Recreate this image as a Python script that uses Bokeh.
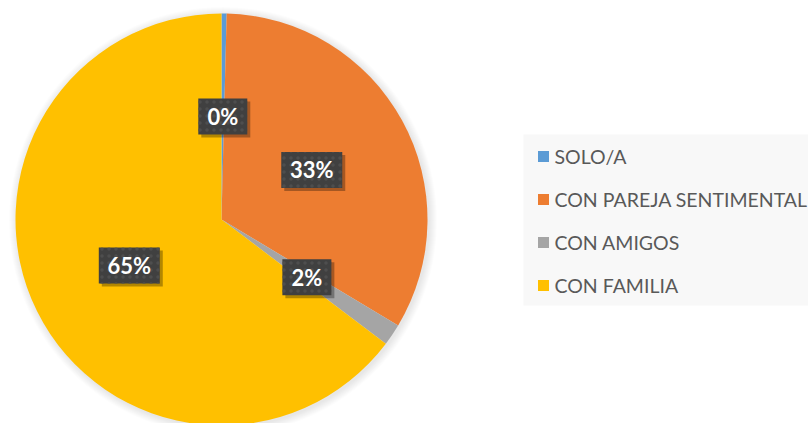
import numpy as np
from bokeh.plotting import figure
from bokeh.embed import file_html
from bokeh.resources import INLINE
from bokeh.core.properties import value
from bokeh.models import ColumnDataSource

categories = ["SOLO/A", "CON PAREJA SENTIMENTAL", "CON AMIGOS", "CON FAMILIA"]
shares = [0.4, 33.2, 1.7, 64.7]
labels = ["0%", "33%", "2%", "65%"]
colors = ["#5B9BD5", "#ED7D31", "#A5A5A5", "#FFC000"]

W, H = 808, 423
p = figure(width=W, height=H, x_range=(0, W), y_range=(0, H),
           output_backend="svg", toolbar_location=None, min_border=0)
p.axis.visible = False
p.grid.visible = False
p.outline_line_color = None
p.background_fill_color = "white"
p.border_fill_color = "white"

cx, cy, r = 221, 204, 206

# soft shadow around pie
for k in range(8, 0, -1):
    p.circle(x=cx + 1.5, y=cy - 1.5, radius=r + k, fill_color="black",
             fill_alpha=0.012, line_color=None)

frac = np.array(shares) / sum(shares)
cum = np.concatenate([[0], np.cumsum(frac)])
start = np.pi / 2 - 2 * np.pi * cum[:-1]
end = np.pi / 2 - 2 * np.pi * cum[1:]
src = ColumnDataSource(dict(start=start, end=end, color=colors, cat=categories))
p.wedge(x=cx, y=cy, radius=r, start_angle="start", end_angle="end",
        direction="clock", fill_color="color", line_color=None, source=src)

# data labels
mid = (cum[:-1] + cum[1:]) / 2
ang = np.pi / 2 - 2 * np.pi * mid
lx = cx + 0.5 * r * np.cos(ang)
ly = cy + 0.5 * r * np.sin(ang)
bw = [25 + 12 * len(s) for s in labels]
lsrc = ColumnDataSource(dict(x=lx, y=ly, sx=lx + 3, sy=ly - 3, w=bw, t=labels))
p.rect(x="sx", y="sy", width="w", height=36, fill_color="black", fill_alpha=0.3,
       line_color=None, source=lsrc)
p.rect(x="x", y="y", width="w", height=36, fill_color="#404040", line_color=None,
       hatch_pattern="dot", hatch_color="#4e4e4e", hatch_scale=7, hatch_weight=1.5,
       source=lsrc)
p.text(x="x", y="y", text="t", text_color="white", text_font=value("Lato"),
       text_font_style="bold", text_font_size="22px", text_align="center",
       text_baseline="middle", source=lsrc)

# legend
p.quad(left=523, right=808, bottom=118, top=289, fill_color="#f8f8f8", line_color=None)
ys = [267 - 43 * i for i in range(len(categories))]
gsrc = ColumnDataSource(dict(x=[543] * 4, tx=[554] * 4, y=ys, c=colors, t=categories))
p.rect(x="x", y="y", width=11, height=11, fill_color="c", line_color=None, source=gsrc)
p.text(x="tx", y="y", text="t", text_color="#595959", text_font=value("Lato"),
       text_font_size="19.5px", text_align="left", text_baseline="middle", source=gsrc)

open("out.html", "w").write(file_html(p, INLINE))
